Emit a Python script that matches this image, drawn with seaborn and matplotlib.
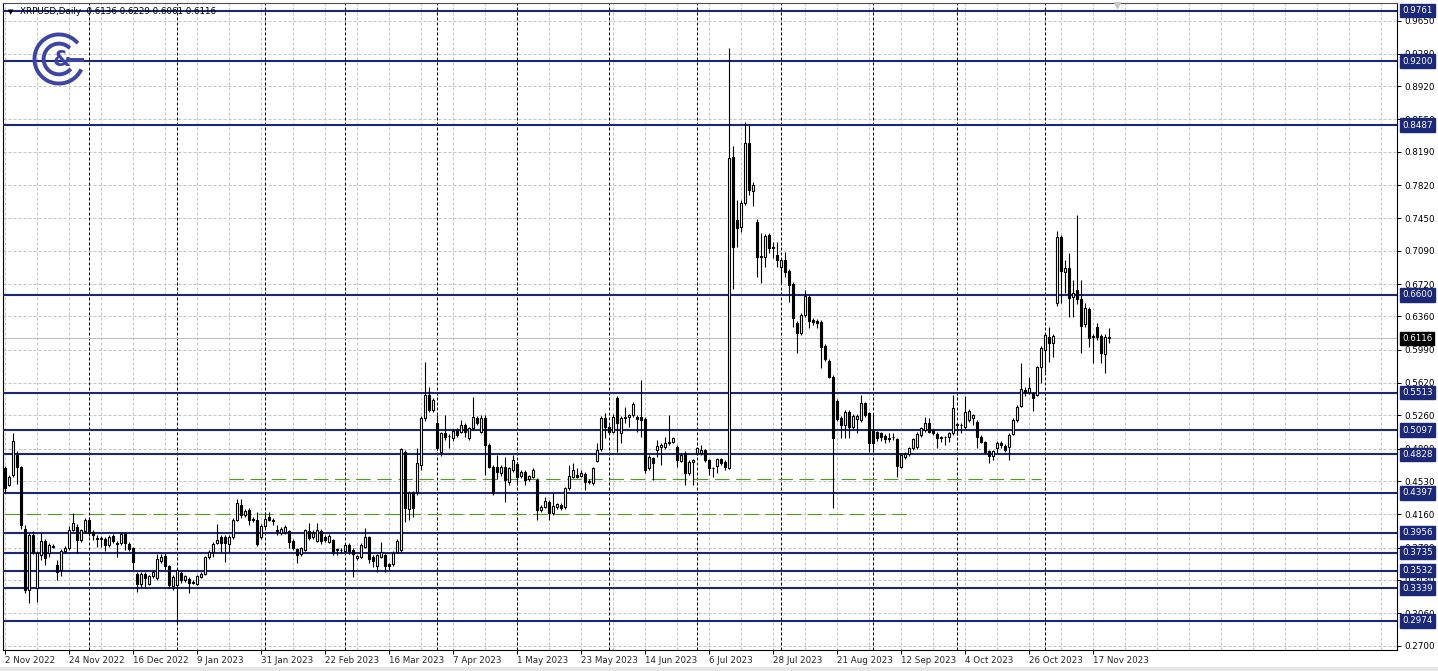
import numpy as np
import pandas as pd
import matplotlib
matplotlib.use("Agg")
import matplotlib.pyplot as plt
from matplotlib.patches import Arc, Rectangle
from matplotlib.transforms import blended_transform_factory
import seaborn as sns

# ---------------- data (XRPUSD daily) ----------------
opens = [
 .467,.449,.460,.482,.469,.400,.332,.393,.334,.371,
 .386,.373,.381,.360,.354,.375,.378,.3985,.4015,.387,
 .397,.410,.3967,.389,.389,.389,.382,.392,.384,.3845,
 .394,.383,.378,.350,.339,.350,.339,.347,.345,.364,
 .370,.358,.336,.337,.351,.343,.344,.341,.339,.3467,
 .350,.368,.374,.3845,.391,.391,.383,.391,.410,.426,
 .415,.421,.411,.410,.391,.403,.413,.410,.398,.395,
 .396,.397,.386,.377,.3718,.3763,.3978,.3904,.3867,.3978,
 .3911,.3856,.3874,.3770,.3760,.3755,.3818,.3763,.3670,.3689,
 .3800,.3904,.3689,.3585,.3689,.3707,.3607,.3607,.3744,.3763,
 .4853,.4215,.4400,.4412,.4708,.5227,.5486,.5320,.5171,.4856,
 .5060,.5030,.5005,.5097,.5079,.5153,.5005,.5116,.5227,.5079,
 .5227,.4930,.4690,.4690,.4615,.4690,.4523,.4653,.4719,.4586,
 .4634,.4549,.4578,.4541,.4208,.4245,.4300,.4171,.4237,.4263,
 .4237,.4449,.4578,.4597,.4586,.4608,.4530,.4504,.4756,.4882,
 .5227,.5134,.5079,.5449,.5060,.5227,.5245,.5264,.5245,.5245,
 .5216,.4671,.4782,.4875,.4912,.4912,.4949,.4967,.4912,.4756,
 .4838,.4615,.4745,.4838,.4838,.4875,.4764,.4671,.4697,.4771,
 .4745,.4678,.8136,.7432,.7358,.7625,.8285,.7758,.7414,.7032,
 .7017,.7265,.7128,.7043,.6913,.6987,.6869,.6720,.6291,.6172,
 .6376,.6580,.6320,.6313,.6302,.6031,.5868,.5690,.5423,.5227,
 .5153,.5301,.5134,.5216,.5208,.5394,.5282,.5090,.5079,.5060,
 .5030,.5005,.5023,.4993,.4690,.4793,.4830,.4893,.4912,.5041,
 .5097,.5171,.5097,.5053,.5016,.5016,.5016,.5060,.5164,.5153,
 .5134,.5208,.5227,.5190,.5023,.4968,.4867,.4808,.4893,.4956,
 .4919,.4912,.5053,.5208,.5364,.5542,.5523,.5505,.5486,.5794,
 .5987,.6135,.6061,.6513,.7239,.6858,.6895,.6580,.6654,.6550,
 .6276,.6439,.6128,.6246,.6142,.5942,.6136]

highs = [
 .470,.460,.506,.486,.470,.404,.395,.397,.375,.395,
 .389,.384,.383,.365,.377,.381,.403,.417,.405,.400,
 .412,.413,.399,.393,.392,.391,.393,.394,.386,.396,
 .396,.385,.380,.352,.352,.352,.349,.354,.372,.372,
 .373,.360,.348,.356,.353,.349,.346,.343,.349,.352,
 .370,.376,.385,.405,.393,.393,.393,.412,.433,.433,
 .422,.423,.413,.418,.405,.418,.418,.412,.404,.402,
 .404,.399,.388,.378,.380,.400,.406,.398,.4067,.400,
 .393,.394,.389,.3781,.378,.384,.384,.378,.371,.384,
 .4004,.392,.371,.372,.3856,.372,.362,.375,.388,.490,
 .488,.442,.442,.4893,.525,.5857,.5579,.545,.5264,.508,
 .5264,.505,.511,.512,.5208,.517,.513,.5468,.525,.5264,
 .5264,.495,.471,.4819,.471,.4801,.469,.4819,.474,.465,
 .465,.460,.467,.456,.426,.4356,.432,.4393,.429,.428,
 .446,.4708,.4725,.4671,.4653,.463,.455,.469,.4949,.525,
 .5282,.515,.527,.547,.525,.5356,.528,.541,.526,.5653,
 .524,.482,.480,.4986,.495,.5023,.5264,.5023,.493,.484,
 .486,.476,.478,.491,.4930,.489,.478,.469,.479,.479,
 .476,.9341,.8255,.7654,.765,.8526,.8488,.785,.744,.7284,
 .728,.729,.7191,.7191,.701,.7080,.689,.674,.631,.640,
 .6654,.660,.634,.633,.632,.605,.589,.571,.544,.525,
 .532,.532,.527,.527,.5486,.541,.530,.528,.509,.508,
 .505,.5060,.5060,.501,.484,.485,.491,.501,.507,.513,
 .5238,.5227,.511,.507,.503,.503,.508,.5486,.518,.517,
 .5475,.533,.528,.521,.504,.498,.488,.488,.497,.497,
 .494,.506,.523,.538,.5846,.557,.569,.552,.581,.603,
 .617,.6246,.616,.7314,.726,.6987,.7061,.6765,.7488,.6765,
 .6506,.646,.616,.6283,.616,.616,.6229]

lows = [
 .440,.447,.458,.450,.400,.328,.317,.372,.319,.365,
 .360,.369,.378,.343,.347,.373,.376,.397,.373,.385,
 .395,.392,.387,.380,.380,.375,.380,.384,.369,.382,
 .376,.375,.354,.330,.335,.334,.337,.345,.343,.362,
 .354,.334,.332,.296,.340,.341,.329,.338,.337,.345,
 .349,.366,.369,.383,.374,.363,.374,.389,.408,.412,
 .413,.404,.407,.381,.389,.401,.408,.404,.393,.393,
 .394,.378,.376,.362,.370,.375,.387,.388,.385,.383,
 .385,.384,.371,.3707,.373,.374,.372,.3466,.365,.367,
 .379,.3615,.3578,.3522,.367,.3522,.3541,.359,.373,.374,
 .4078,.4097,.4134,.438,.4652,.520,.530,.530,.487,.4808,
 .499,.4893,.498,.502,.506,.5023,.499,.510,.515,.506,
 .4597,.467,.437,.4549,.459,.4300,.4486,.463,.4486,.456,
 .4486,.453,.456,.4097,.419,.423,.4097,.415,.422,.421,
 .422,.443,.456,.456,.457,.4430,.450,.449,.474,.486,
 .5004,.505,.506,.4856,.4949,.5171,.5134,.524,.5079,.5023,
 .4615,.465,.4541,.4801,.4708,.489,.493,.495,.4689,.474,
 .4485,.460,.4485,.482,.482,.474,.4596,.4578,.4615,.471,
 .4652,.466,.6661,.7136,.7302,.760,.7710,.7588,.6802,.6735,
 .6913,.7061,.7006,.6913,.6728,.6802,.6524,.6246,.5950,.615,
 .635,.6228,.627,.6228,.5783,.586,.567,.4226,.520,.5004,
 .5004,.5004,.511,.5067,.519,.524,.4856,.4856,.498,.4979,
 .4949,.4968,.4986,.4571,.467,.477,.481,.488,.489,.502,
 .508,.506,.5041,.4893,.4968,.4930,.4968,.504,.5041,.5060,
 .511,.519,.5153,.4893,.495,.483,.4727,.4764,.4845,.4893,
 .4856,.4764,.504,.519,.535,.548,.550,.5312,.547,.5616,
 .5746,.5857,.5913,.6476,.6506,.6617,.6357,.6357,.650,.5957,
 .6246,.6024,.5846,.610,.5839,.5728,.6061]

closes = [
 .445,.458,.497,.469,.404,.332,.393,.374,.373,.386,
 .367,.382,.380,.352,.375,.379,.399,.406,.387,.3985,
 .410,.395,.393,.390,.390,.382,.391,.386,.383,.394,
 .384,.377,.363,.339,.350,.345,.347,.352,.366,.368,
 .358,.337,.346,.354,.343,.347,.340,.340,.347,.350,
 .368,.374,.383,.387,.384,.384,.391,.410,.428,.415,
 .420,.410,.410,.383,.403,.411,.410,.409,.397,.400,
 .4015,.385,.378,.371,.3781,.3985,.3893,.3956,.3985,.3867,
 .3874,.3919,.3733,.3763,.3763,.3818,.3755,.3718,.3696,.3818,
 .3904,.3659,.3644,.3707,.3737,.3585,.3585,.3733,.3863,.4882,
 .4226,.4400,.4226,.4727,.5227,.5486,.5320,.5431,.4893,.5060,
 .5016,.5025,.5090,.5042,.5153,.5079,.5116,.5246,.5171,.5227,
 .4930,.4690,.4393,.4634,.4690,.4541,.4671,.4764,.4578,.4634,
 .4541,.4586,.4653,.4208,.4245,.4312,.4171,.4252,.4274,.4226,
 .4449,.4586,.4653,.4578,.4615,.4523,.4520,.4671,.4874,.5227,
 .5134,.5079,.5245,.5171,.5227,.5245,.5264,.5386,.5216,.5208,
 .4652,.4801,.4726,.4919,.4930,.4949,.4967,.5004,.4764,.4819,
 .4615,.4745,.4760,.4894,.4875,.4764,.4671,.4675,.4771,.4734,
 .4689,.8118,.7128,.7339,.7625,.8285,.7766,.7821,.7017,.7017,
 .7254,.7117,.7125,.6987,.6987,.6858,.6709,.6339,.6172,.6376,
 .6587,.6313,.6294,.6291,.6024,.5883,.5690,.5004,.5216,.5153,
 .5301,.5134,.5253,.5253,.5394,.5264,.4949,.4949,.5005,.5016,
 .4993,.5000,.5018,.4697,.4819,.4830,.4893,.4993,.5053,.5116,
 .5179,.5079,.5068,.5005,.5012,.5020,.5060,.5338,.5153,.5150,
 .5301,.5312,.5264,.5016,.4968,.4856,.4808,.4867,.4956,.4930,
 .4875,.5041,.5208,.5357,.5549,.5505,.5561,.5450,.5794,.6005,
 .6153,.6061,.6142,.7239,.6869,.6895,.6561,.6624,.6550,.6254,
 .6450,.6116,.6142,.6128,.5950,.6135,.6116]

date_labels = ["2 Nov 2022", "24 Nov 2022", "16 Dec 2022", "9 Jan 2023", "31 Jan 2023",
               "22 Feb 2023", "16 Mar 2023", "7 Apr 2023", "1 May 2023", "23 May 2023",
               "14 Jun 2023", "6 Jul 2023", "28 Jul 2023", "21 Aug 2023", "12 Sep 2023",
               "4 Oct 2023", "26 Oct 2023", "17 Nov 2023"]
month_start_bars = [21, 43, 65, 85, 108, 128, 151, 173, 194, 217, 238, 260]
price_ticks = ["0.2700", "0.3060", "0.3430", "0.3790", "0.4160", "0.4530", "0.4890",
               "0.5260", "0.5620", "0.5990", "0.6360", "0.6720", "0.7090", "0.7450",
               "0.7820", "0.8190", "0.8550", "0.8920", "0.9280", "0.9650"]
levels = [0.9761, 0.9200, 0.8487, 0.6600, 0.5513, 0.5097, 0.4828, 0.4397,
          0.3956, 0.3735, 0.3532, 0.3339, 0.2974]
green_lines = [(0.4552, 56, 259), (0.4163, 0, 226)]   # (price, start bar, end bar)
last_price = 0.6116
header = "XRPUSD,Daily  0.6136 0.6229 0.6061 0.6116"

# ---------------- style ----------------
sns.set_theme(style="white")
plt.rcParams['font.family'] = ['DejaVu Sans']
NAVY = '#1b2777'
FS = 6.3

df = pd.DataFrame({"open": opens, "high": highs, "low": lows, "close": closes})
df["bar"] = np.arange(len(df))
df["up"] = df["close"] >= df["open"]
df["bottom"] = df[["open", "close"]].min(axis=1)
df["height"] = (df["close"] - df["open"]).abs().clip(lower=0.0004)

W, H = 1438, 671
fig = plt.figure(figsize=(W / 100, H / 100), dpi=100)
fig.patch.set_facecolor('white')
# light grey frame strip at the very bottom, like the terminal window
fig.add_artist(Rectangle((0, 0), 1, 4 / H, transform=fig.transFigure,
                         fc='#e6e6e6', ec='none', zorder=0))
ax = fig.add_axes([3 / W, 1 - 650 / H, 1394 / W, 647 / H])
ax.set_facecolor('white')
ax.set_xlim(-0.5, 348)
ax.set_ylim(0.2651, 0.9845)

# grid
tick_vals = [float(t) for t in price_ticks]
for t in tick_vals:
    ax.axhline(t, color='#c4c4c4', lw=0.72, ls=(0, (3, 2)), zorder=1)
for i in range(0, 349, 8):
    ax.axvline(i, color='#c4c4c4', lw=0.72, ls=(0, (3, 2)), zorder=1)
for i in month_start_bars:
    ax.axvline(i, color='black', lw=0.72, ls=(0, (3, 2)), zorder=1.5)

# last price line
ax.axhline(last_price, color='#c0c0c0', lw=0.8, zorder=2)

# level lines
for v in levels:
    ax.axhline(v, color=NAVY, lw=1.5, zorder=3)

# green dashed lines
for p, a, b in green_lines:
    ax.hlines(p, a, b, color='#4f9a16', lw=0.8, ls=(0, (13, 6)), zorder=2.5)

# candles
ax.vlines(df["bar"], df["low"], df["high"], color='black', lw=0.8, zorder=4)
up = df[df["up"]]
dn = df[~df["up"]]
ax.bar(up["bar"], up["height"], bottom=up["bottom"], width=0.62, color='white',
       edgecolor='black', linewidth=0.8, zorder=5)
ax.bar(dn["bar"], dn["height"], bottom=dn["bottom"], width=0.62, color='black',
       edgecolor='black', linewidth=0.8, zorder=5)

# shift marker at top
ax.plot([278], [0.9818], marker='v', ms=4, color='#c8c8c8', clip_on=False, zorder=6)

# axes / ticks
ax.yaxis.tick_right()
ax.set_yticks(tick_vals)
ax.set_yticklabels(price_ticks, fontsize=FS, color='black')
ax.tick_params(axis='y', which='major', right=True, length=3, width=0.7, pad=2,
               color='black')
xt = list(range(0, 16 * len(date_labels), 16))
ax.set_xticks(xt)
ax.set_xticklabels(date_labels, fontsize=FS, ha='left')
ax.tick_params(axis='x', which='major', bottom=True, length=3, width=0.7, pad=1.5,
               color='black')
ax.grid(False)
for s in ['top', 'left', 'right', 'bottom']:
    ax.spines[s].set_color('black')
    ax.spines[s].set_linewidth(0.8)
ax.spines['top'].set_color('#505050')

# right price boxes
tr = blended_transform_factory(ax.transAxes, ax.transData)
xlab = (1402 - 3) / 1394
for v in levels:
    ax.text(xlab, v, f"{v:.4f}", transform=tr, fontsize=FS, color='white',
            ha='left', va='center', clip_on=False, zorder=10,
            bbox=dict(boxstyle='square,pad=0.25', fc=NAVY, ec=NAVY))
ax.text(xlab, last_price, f"{last_price:.4f}", transform=tr, fontsize=FS, color='white',
        ha='left', va='center', clip_on=False, zorder=10,
        bbox=dict(boxstyle='square,pad=0.25', fc='black', ec='black'))

# header
fig.text(8 / W, 1 - 12 / H, "\u25BC", fontsize=5, va='center', ha='left', color='black')
fig.text(20 / W, 1 - 12 / H, header, fontsize=FS, va='center', ha='left', color='black')

# logo
lax = fig.add_axes([32 / W, 1 - 86 / H, 54 / W, 54 / H])
lax.set_xlim(-1.1, 1.1)
lax.set_ylim(-1.1, 1.1)
lax.set_aspect('equal')
lax.axis('off')
LC = '#3d44a8'
lax.add_patch(Arc((0, 0), 2.0, 2.0, theta1=40, theta2=335, lw=2.8, color=LC))
lax.add_patch(Arc((0, 0), 1.25, 1.25, theta1=45, theta2=320, lw=2.8, color=LC))
lax.plot([0.35, 1.0], [-0.03, -0.03], color=LC, lw=2.8, solid_capstyle='butt')
lax.text(0.12, -0.05, "&", fontsize=15, color=LC, ha='center', va='center',
         fontweight='bold')

fig.savefig("out.png", dpi=100, facecolor='white')
